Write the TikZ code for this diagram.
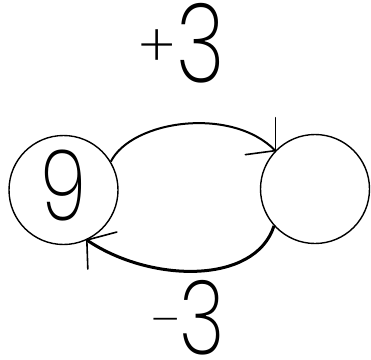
\documentclass[tikz,border=0pt]{standalone}
\usepackage{graphicx}
\usepackage{fontspec}
\newfontfamily\digitfont{Poppins}[UprightFont=* ExtraLight]
\usetikzlibrary{arrows.meta}
\tikzset{
  state/.style={draw, circle, line width=1.4pt, minimum size=109pt, inner sep=0pt},
  big/.style={font=\digitfont\fontsize{110}{110}\selectfont, inner sep=0pt, anchor=base east},
  barb/.style={line width=1.6pt, line cap=round},
}
\newcommand{\sgn}[3]{{\fontsize{#2}{#2}\selectfont\raisebox{#3}{#1}}}
\newcommand{\narrow}[1]{\scalebox{0.76}[1]{#1}}
\begin{document}
\begin{tikzpicture}[x=1pt, y=-1pt]
\useasboundingbox (0,0) rectangle (371,359);
\node[state] (L) at (63.5,190) {};
\node[state] (R) at (315,189) {};
\node[big, anchor=base, font=\digitfont\fontsize{98}{98}\selectfont] (nine) at (64,220) {\narrow{9}};
\node[big] (plus) at (225,82) {\sgn{+}{60pt}{15pt}\kern0pt\narrow{3}};
\node[big, font=\digitfont\fontsize{103}{103}\selectfont] (minus) at (225,354) {\sgn{–}{46pt}{18pt}\kern0pt\narrow{3}};
\coordinate (t1) at (R.136);
\coordinate (t2) at (L.-65);
\draw[line width=2pt] (L.31) .. controls (132,120) and (232,106) .. (t1);
\draw[line width=3pt] (R.222) .. controls (255,285) and (150,283) .. (t2);
\draw[barb] (t1) -- ++(0,-33);
\draw[barb] (t1) -- ++(-30,4);
\draw[barb] (t2) -- ++(30,-8);
\draw[barb] (t2) -- ++(1,29);
\end{tikzpicture}
\end{document}
